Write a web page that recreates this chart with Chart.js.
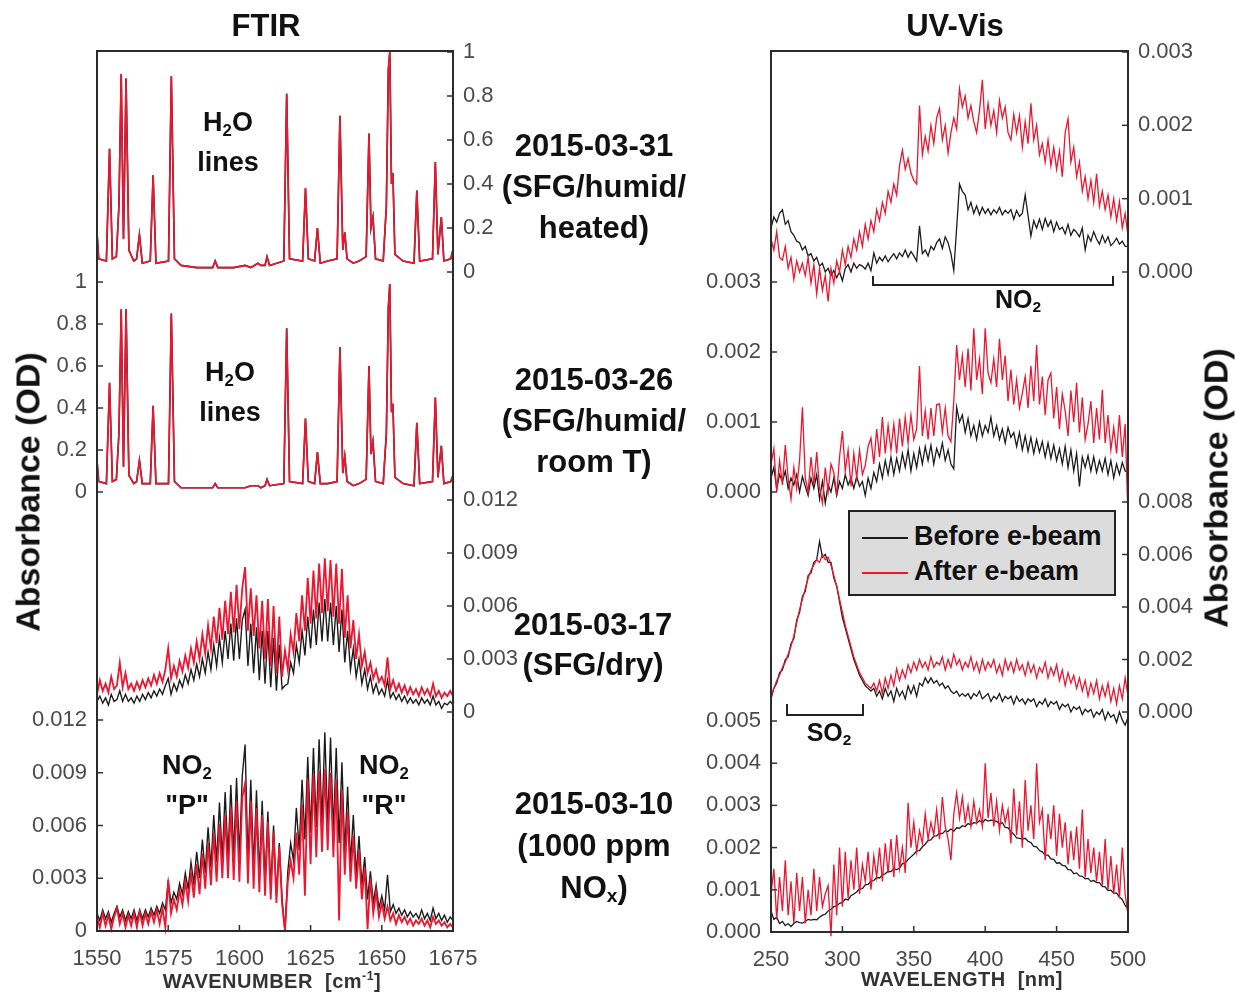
<!DOCTYPE html>
<html lang="en">
<head>
<meta charset="UTF-8">
<title>FTIR and UV-Vis absorbance spectra</title>
<script src="https://cdn.jsdelivr.net/npm/chart.js"></script>
<style>
    body {
        margin: 0;
        background: #ffffff;
        font-family: "Liberation Sans", Arial, sans-serif;
    }
    #page {
        position: relative;
        width: 1236px;
        height: 994px;
        overflow: hidden;
        background: #ffffff;
    }
    canvas {
        position: absolute;
        top: 0;
    }
    .ftir { left: 0; }
    .uv { left: 640px; }

    .txt {
        position: absolute;
        transform: translate(-50%, -50%);
        font-weight: bold;
        color: #111;
        text-align: center;
        white-space: nowrap;
    }
    .title { font-size: 31px; }
    .date { font-size: 31px; }
    .note { font-size: 27px; line-height: 33px; }
    .xtitle { font-size: 20px; color: #333; letter-spacing: 0.5px; }
    .ytitle {
        position: absolute;
        transform: translate(-50%, -50%) rotate(-90deg);
        font-size: 34px;
        font-weight: bold;
        color: #111;
        white-space: nowrap;
    }
    sub, sup { font-size: 62%; }
    sub { vertical-align: -0.25em; }

    .bracket {
        position: absolute;
        border: 2px solid #222;
        border-top: none;
        box-sizing: border-box;
    }

    #legend {
        position: absolute;
        left: 848px;
        top: 510px;
        width: 268px;
        height: 86px;
        box-sizing: border-box;
        border: 2px solid #222;
        background: #dcdcdc;
        font-size: 27px;
        font-weight: bold;
        color: #111;
    }
    #legend .row {
        position: absolute;
        left: 12px;
        height: 34px;
        line-height: 34px;
        white-space: nowrap;
    }
    #legend .sw {
        display: inline-block;
        width: 46px;
        height: 2px;
        vertical-align: middle;
        margin-right: 6px;
    }
</style>
</head>
<body>
<div id="page">
    <canvas id="ftir1" class="ftir" width="560" height="994"></canvas>
    <canvas id="ftir2" class="ftir" width="560" height="994"></canvas>
    <canvas id="ftir3" class="ftir" width="560" height="994"></canvas>
    <canvas id="ftir4" class="ftir" width="560" height="994"></canvas>
    <canvas id="uv1" class="uv" width="596" height="994"></canvas>
    <canvas id="uv2" class="uv" width="596" height="994"></canvas>
    <canvas id="uv3" class="uv" width="596" height="994"></canvas>
    <canvas id="uv4" class="uv" width="596" height="994"></canvas>

    <div class="txt title" style="left:266px; top:26px;">FTIR</div>
    <div class="txt title" style="left:955px; top:26px;">UV-Vis</div>

    <div class="ytitle" style="left:28px; top:492px;">Absorbance (OD)</div>
    <div class="ytitle" style="left:1216px; top:488px;">Absorbance (OD)</div>

    <div class="txt date" style="left:594px; top:186px; line-height:41px;">2015-03-31<br>(SFG/humid/<br>heated)</div>
    <div class="txt date" style="left:594px; top:420px; line-height:41px;">2015-03-26<br>(SFG/humid/<br>room T)</div>
    <div class="txt date" style="left:593px; top:645px; line-height:40px;">2015-03-17<br>(SFG/dry)</div>
    <div class="txt date" style="left:594px; top:850px; line-height:42px;">2015-03-10<br>(1000 ppm<br>NO<sub>x</sub>)</div>

    <div class="txt note" style="left:228px; top:143px;">H<sub>2</sub>O<br>lines</div>
    <div class="txt note" style="left:230px; top:393px;">H<sub>2</sub>O<br>lines</div>
    <div class="txt note" style="left:187px; top:786px;">NO<sub>2</sub><br>"P"</div>
    <div class="txt note" style="left:384px; top:786px;">NO<sub>2</sub><br>"R"</div>

    <div class="bracket" style="left:872px; top:276px; width:242px; height:10px;"></div>
    <div class="txt note" style="left:1018px; top:303px; font-size:25px;">NO<sub>2</sub></div>
    <div class="bracket" style="left:786px; top:704px; width:78px; height:12px;"></div>
    <div class="txt note" style="left:829px; top:736px; font-size:25px;">SO<sub>2</sub></div>

    <div id="legend">
        <div class="row" style="top:7px;"><span class="sw" style="background:#1c1c1c;"></span>Before e-beam</div>
        <div class="row" style="top:42px;"><span class="sw" style="background:#f0142d;"></span>After e-beam</div>
    </div>

    <div class="txt xtitle" style="left:272px; top:981px;">WAVENUMBER&nbsp; [cm<sup>-1</sup>]</div>
    <div class="txt xtitle" style="left:962px; top:979px;">WAVELENGTH&nbsp; [nm]</div>
</div>

<script>
    // ---- FTIR data (wavenumber in cm-1) ----
    // H2O line spectra, absorbance in OD
    const h2oWn = [
        1550.0, 1550.6, 1553.3, 1554.4, 1555.4, 1556.8, 1557.7, 1558.5, 1559.3, 1560.2,
        1561.2, 1562.9, 1563.9, 1564.9, 1565.9, 1568.7, 1569.7, 1570.7, 1575.1, 1576.1,
        1577.2, 1579.5, 1585.0, 1590.6, 1591.5, 1592.4, 1598.0, 1602.0, 1604.0, 1606.5,
        1607.5, 1609.0, 1609.7, 1610.6, 1615.6, 1616.6, 1617.6, 1622.2, 1623.2, 1624.2,
        1626.4, 1627.4, 1628.4, 1631.0, 1634.3, 1635.3, 1636.3, 1637.0, 1637.8, 1640.0,
        1642.0, 1644.5, 1645.5, 1646.2, 1646.9, 1647.8, 1650.5, 1651.6, 1652.3, 1652.8,
        1653.4, 1653.9, 1654.6, 1657.5, 1661.3, 1662.3, 1663.3, 1667.8, 1668.8, 1669.7,
        1670.9, 1671.8, 1674.2, 1675.0
    ];
    const h2oMar31 = [
        0.18, 0.06, 0.05, 0.56, 0.06, 0.07, 0.30, 0.90, 0.15, 0.88,
        0.10, 0.05, 0.06, 0.17, 0.04, 0.05, 0.44, 0.04, 0.05, 0.89,
        0.06, 0.03, 0.02, 0.02, 0.05, 0.02, 0.02, 0.03, 0.02, 0.04,
        0.03, 0.03, 0.07, 0.03, 0.05, 0.81, 0.06, 0.05, 0.38, 0.06,
        0.05, 0.20, 0.04, 0.05, 0.06, 0.71, 0.10, 0.18, 0.06, 0.04,
        0.05, 0.07, 0.63, 0.20, 0.25, 0.06, 0.05, 0.30, 0.92, 1.00,
        0.40, 0.45, 0.08, 0.05, 0.04, 0.37, 0.05, 0.06, 0.50, 0.08,
        0.25, 0.05, 0.06, 0.10
    ];
    const h2oMar26 = [
        0.15, 0.05, 0.04, 0.52, 0.05, 0.06, 0.28, 0.87, 0.12, 0.87,
        0.08, 0.04, 0.05, 0.15, 0.04, 0.04, 0.41, 0.04, 0.04, 0.85,
        0.05, 0.02, 0.02, 0.02, 0.04, 0.02, 0.02, 0.02, 0.03, 0.03,
        0.02, 0.03, 0.06, 0.03, 0.04, 0.78, 0.05, 0.04, 0.35, 0.05,
        0.04, 0.19, 0.04, 0.04, 0.05, 0.69, 0.09, 0.17, 0.05, 0.03,
        0.04, 0.06, 0.60, 0.18, 0.24, 0.05, 0.04, 0.28, 0.88, 0.99,
        0.38, 0.42, 0.07, 0.04, 0.03, 0.33, 0.04, 0.05, 0.45, 0.07,
        0.22, 0.04, 0.05, 0.08
    ];

    // NO2 band spectra, absorbance in mOD (0.001 OD)
    const no2Wn = [
        1550, 1551, 1552, 1553, 1554, 1555, 1556, 1557, 1558, 1559,
        1560, 1561, 1562, 1563, 1564, 1565, 1566, 1567, 1568, 1569,
        1570, 1571, 1572, 1573, 1574, 1575, 1576, 1577, 1578, 1579,
        1580, 1581, 1582, 1583, 1584, 1585, 1586, 1587, 1588, 1589,
        1590, 1591, 1592, 1593, 1594, 1595, 1596, 1597, 1598, 1599,
        1600, 1601, 1602, 1603, 1604, 1605, 1606, 1607, 1608, 1609,
        1610, 1611, 1612, 1613, 1614, 1615, 1616, 1617, 1618, 1619,
        1620, 1621, 1622, 1623, 1624, 1625, 1626, 1627, 1628, 1629,
        1630, 1631, 1632, 1633, 1634, 1635, 1636, 1637, 1638, 1639,
        1640, 1641, 1642, 1643, 1644, 1645, 1646, 1647, 1648, 1649,
        1650, 1651, 1652, 1653, 1654, 1655, 1656, 1657, 1658, 1659,
        1660, 1661, 1662, 1663, 1664, 1665, 1666, 1667, 1668, 1669,
        1670, 1671, 1672, 1673, 1674, 1675
    ];
    const ftirMar17Before = [
        0.6, 0.9, 0.5, 0.8, 0.4, 1.0, 0.6, 0.7, 1.2, 0.6,
        1.0, 0.6, 0.8, 0.5, 0.9, 0.6, 1.0, 0.7, 1.1, 0.8,
        1.2, 0.9, 1.3, 1.0, 1.5, 1.9, 1.0, 1.6, 1.2, 1.8,
        1.4, 2.1, 1.6, 2.4, 1.8, 2.7, 2.0, 3.0, 2.2, 3.4,
        2.4, 3.8, 2.6, 4.2, 2.8, 4.6, 3.0, 5.0, 2.9, 5.3,
        3.0, 5.2, 5.8, 2.6, 5.0, 2.2, 4.8, 1.8, 4.6, 1.6,
        4.6, 1.4, 4.2, 1.2, 3.8, 1.3, 1.5, 1.6, 2.8, 2.2,
        3.8, 2.8, 4.6, 3.2, 5.4, 3.6, 5.8, 3.8, 6.2, 4.0,
        6.4, 4.0, 6.2, 3.8, 6.0, 3.4, 5.8, 2.8, 4.6, 2.4,
        3.6, 2.0, 3.0, 1.6, 2.4, 1.3, 2.0, 1.1, 1.6, 1.0,
        1.3, 0.9, 1.8, 0.8, 1.1, 0.7, 1.0, 0.6, 0.9, 0.5,
        0.8, 0.5, 0.7, 0.4, 0.8, 0.5, 0.7, 0.4, 0.9, 0.4,
        0.6, 0.2, 0.5, 0.4, 0.6, 0.4
    ];
    const ftirMar17After = [
        1.0, 1.8, 1.2, 1.6, 1.1, 2.0, 1.3, 1.5, 2.8, 1.4,
        2.2, 1.3, 1.6, 1.2, 1.7, 1.3, 1.8, 1.4, 1.9, 1.5,
        2.1, 1.6, 2.2, 1.7, 2.4, 3.6, 1.9, 2.6, 2.0, 2.9,
        2.3, 3.2, 2.5, 3.6, 2.8, 4.0, 3.0, 4.4, 3.3, 4.9,
        3.6, 5.4, 3.9, 5.9, 4.1, 6.3, 4.4, 6.8, 4.5, 7.2,
        4.7, 7.0, 8.2, 4.6, 7.0, 4.3, 6.6, 3.6, 6.3, 3.0,
        6.4, 2.6, 6.0, 2.2, 5.4, 2.0, 3.5, 2.4, 4.4, 3.4,
        5.6, 4.0, 6.6, 4.6, 7.6, 5.0, 8.0, 5.3, 8.4, 5.6,
        8.7, 5.7, 8.6, 5.4, 8.4, 5.0, 8.1, 4.2, 6.6, 3.6,
        5.2, 3.0, 4.4, 2.6, 3.4, 2.2, 2.8, 1.9, 2.4, 1.7,
        2.0, 1.5, 3.1, 1.3, 1.8, 1.2, 1.6, 1.1, 1.5, 1.0,
        1.4, 1.0, 1.3, 0.9, 1.4, 1.0, 1.3, 0.9, 1.6, 0.9,
        1.2, 0.8, 1.1, 0.9, 1.2, 0.9
    ];
    const ftirMar10Before = [
        1.0, 0.6, 1.2, 0.7, 1.1, 0.5, 1.0, 1.4, 0.8, 1.2,
        0.6, 1.1, 0.7, 1.2, 0.6, 1.2, 0.7, 1.2, 0.8, 1.3,
        0.9, 1.4, 1.0, 1.6, 1.2, 2.8, 1.6, 2.2, 1.8, 2.7,
        2.1, 3.3, 2.4, 3.9, 2.7, 4.5, 3.0, 5.2, 3.3, 5.9,
        3.6, 6.6, 3.9, 7.3, 4.1, 7.9, 4.2, 8.3, 4.3, 8.7,
        4.2, 8.8, 10.6, 4.0, 8.6, 3.6, 8.0, 3.2, 7.4, 2.8,
        6.8, 2.4, 6.0, 2.0, 5.0, 1.8, 0.0, 3.4, 5.0, 4.0,
        7.0, 4.6, 8.6, 5.2, 9.9, 5.6, 10.4, 5.9, 10.9, 6.1,
        11.3, 6.0, 11.0, 5.6, 10.4, 5.0, 9.6, 4.4, 8.2, 3.8,
        6.6, 3.2, 5.4, 2.6, 4.2, 1.8, 3.4, 1.6, 2.6, 1.3,
        2.0, 1.2, 3.2, 1.1, 1.5, 1.0, 1.3, 0.9, 1.2, 0.8,
        1.1, 0.8, 1.0, 0.7, 1.2, 0.7, 1.0, 0.6, 1.3, 0.7,
        1.0, 0.6, 0.9, 0.5, 0.8, 0.6
    ];
    const ftirMar10After = [
        0.8, 0.2, 1.0, 0.3, 0.9, 0.1, 0.8, 1.3, 0.4, 1.0,
        0.2, 0.9, 0.3, 1.0, 0.2, 1.1, 0.3, 1.0, 0.4, 1.1,
        0.5, 1.2, 0.4, 1.3, 0.2, 2.9, 1.0, 1.8, 1.2, 2.3,
        1.5, 2.8, 1.7, 3.3, 1.9, 3.8, 2.1, 4.4, 2.4, 5.0,
        2.6, 5.6, 2.8, 6.1, 3.0, 6.6, 3.0, 7.0, 2.9, 7.4,
        2.8, 7.6, 8.4, 2.7, 7.4, 2.4, 7.0, 2.2, 6.6, 2.0,
        6.2, 1.8, 5.6, 1.6, 4.8, 1.5, 0.0, 2.8, 4.0, 3.0,
        5.6, 3.2, 7.2, 2.0, 8.6, 3.8, 8.9, 4.2, 9.1, 4.5,
        9.2, 4.6, 9.0, 4.2, 8.6, 0.6, 8.0, 3.2, 6.8, 2.8,
        5.4, 2.4, 4.6, 1.8, 3.6, 0.1, 3.0, 1.0, 2.2, 0.8,
        1.6, 0.7, 1.4, 0.6, 1.0, 0.4, 0.9, 0.5, 0.8, 0.4,
        0.7, 0.3, 0.6, 0.4, 0.7, 0.3, 0.6, 0.2, 0.8, 0.4,
        0.6, 0.3, 0.5, 0.2, 0.4, 0.2
    ];

    // ---- UV-Vis data (wavelength in nm, absorbance in mOD) ----
    const uvNm = [
        250, 252, 254, 256, 258, 260, 262, 264, 266, 268,
        270, 272, 274, 276, 278, 280, 282, 284, 286, 288,
        290, 292, 294, 296, 298, 300, 302, 304, 306, 308,
        310, 312, 314, 316, 318, 320, 322, 324, 326, 328,
        330, 332, 334, 336, 338, 340, 342, 344, 346, 348,
        350, 352, 354, 356, 358, 360, 362, 364, 366, 368,
        370, 372, 374, 376, 378, 380, 382, 384, 386, 388,
        390, 392, 394, 396, 398, 400, 402, 404, 406, 408,
        410, 412, 414, 416, 418, 420, 422, 424, 426, 428,
        430, 432, 434, 436, 438, 440, 442, 444, 446, 448,
        450, 452, 454, 456, 458, 460, 462, 464, 466, 468,
        470, 472, 474, 476, 478, 480, 482, 484, 486, 488,
        490, 492, 494, 496, 498, 500
    ];
    const uvMar31Before = [
        0.60, 0.75, 0.68, 0.80, 0.85, 0.65, 0.70, 0.55, 0.50, 0.42,
        0.40, 0.30, 0.35, 0.22, 0.25, 0.15, 0.20, 0.08, 0.12, 0.00,
        0.05, -0.05, 0.02, -0.08, 0.00, -0.12, 0.05, 0.10, 0.00, 0.12,
        0.05, 0.10, 0.08, 0.04, 0.12, 0.02, 0.26, 0.12, 0.20, 0.15,
        0.22, 0.14, 0.20, 0.25, 0.18, 0.26, 0.21, 0.30, 0.20, 0.28,
        0.22, 0.15, 0.63, 0.25, 0.30, 0.22, 0.35, 0.30, 0.40, 0.45,
        0.32, 0.48, 0.40, 0.25, 0.02, 0.60, 1.20, 1.10, 1.05, 0.85,
        0.95, 0.80, 0.90, 0.78, 0.88, 0.80, 0.86, 0.78, 0.85, 0.80,
        0.88, 0.78, 0.84, 0.80, 0.85, 0.72, 0.84, 0.76, 0.80, 1.05,
        0.77, 0.49, 0.70, 0.60, 0.72, 0.58, 0.73, 0.62, 0.70, 0.55,
        0.68, 0.58, 0.61, 0.52, 0.65, 0.50, 0.58, 0.54, 0.48, 0.60,
        0.30, 0.50, 0.42, 0.55, 0.45, 0.38, 0.50, 0.40, 0.48, 0.36,
        0.40, 0.46, 0.38, 0.42, 0.35, 0.35
    ];
    const uvMar31After = [
        0.45, 0.30, 0.55, 0.20, 0.16, 0.35, 0.05, 0.20, -0.10, 0.15,
        0.00, 0.12, -0.05, 0.20, -0.15, 0.10, -0.30, 0.05, -0.25, -0.05,
        -0.40, 0.05, -0.15, 0.15, 0.00, 0.30, 0.10, 0.35, 0.20, 0.45,
        0.30, 0.55, 0.35, 0.65, 0.45, 0.70, 0.55, 0.85, 0.70, 0.95,
        0.80, 1.10, 0.95, 1.20, 1.05, 1.45, 1.66, 1.40, 1.55, 1.35,
        1.25, 1.20, 2.27, 1.60, 1.85, 1.65, 2.00, 1.75, 2.10, 2.23,
        1.80, 2.00, 1.62, 1.90, 2.10, 1.95, 2.50, 2.25, 2.40, 2.10,
        2.27, 2.05, 1.90, 2.20, 2.62, 1.95, 2.30, 2.00, 2.20, 1.90,
        2.34, 2.10, 2.25, 1.90, 1.80, 2.15, 1.90, 2.13, 1.70, 2.05,
        1.75, 2.30, 1.80, 2.00, 1.60, 1.75, 1.50, 1.80, 1.45, 1.70,
        1.40, 1.65, 1.30, 1.90, 2.09, 1.50, 1.70, 1.30, 1.50, 1.10,
        1.30, 1.00, 1.25, 0.95, 1.34, 0.90, 1.10, 0.85, 1.05, 0.75,
        1.00, 0.70, 0.96, 0.60, 0.80, 0.49
    ];
    const uvMar26Before = [
        0.20, 0.35, 0.05, 0.25, 0.15, 0.30, 0.05, 0.20, 0.10, 0.25,
        0.00, 0.22, 0.08, -0.05, 0.20, 0.05, 0.25, -0.10, 0.15, -0.16,
        0.10, 0.00, 0.20, -0.05, 0.15, 0.05, 0.25, 0.10, 0.20, 0.05,
        0.22, 0.08, 0.15, -0.05, 0.20, 0.05, 0.28, 0.15, 0.40, 0.20,
        0.45, 0.25, 0.50, 0.25, 0.48, 0.30, 0.55, 0.35, 0.60, 0.30,
        0.55, 0.35, 0.62, 0.40, 0.65, 0.45, 0.67, 0.40, 0.62, 0.50,
        0.70, 0.45, 0.60, 0.40, 0.33, 1.21, 1.00, 1.10, 0.85, 1.05,
        0.80, 0.95, 0.75, 1.00, 0.80, 0.95, 0.85, 1.07, 0.80, 0.95,
        0.75, 0.90, 0.70, 0.92, 0.78, 0.85, 0.65, 0.85, 0.60, 0.80,
        0.58, 0.78, 0.55, 0.75, 0.57, 0.72, 0.50, 0.70, 0.48, 0.67,
        0.45, 0.62, 0.40, 0.65, 0.35, 0.60, 0.30, 0.55, 0.08, 0.50,
        0.35, 0.52, 0.30, 0.50, 0.28, 0.45, 0.30, 0.48, 0.25, 0.45,
        0.20, 0.40, 0.25, 0.42, 0.30, 0.28
    ];
    const uvMar26After = [
        0.40, 0.62, 0.00, 0.45, 0.10, 0.67, 0.20, -0.10, 0.35, 0.05,
        0.45, 1.21, 0.20, 0.00, 0.50, 0.10, 0.57, 0.05, -0.16, 0.35,
        0.00, 0.40, 0.28, -0.05, 0.50, 0.87, 0.30, 0.60, 0.08, 0.55,
        0.20, 0.60, 0.25, 0.38, 0.65, 0.77, 0.40, 0.90, 0.50, 1.07,
        0.55, 0.95, 0.60, 0.97, 0.55, 1.05, 0.65, 1.07, 0.70, 1.10,
        0.75, 0.90, 1.80, 0.80, 1.16, 0.75, 1.20, 0.80, 1.25, 1.26,
        0.85, 1.20, 0.80, 0.72, 1.30, 2.10, 1.60, 1.95, 1.50, 2.05,
        1.45, 2.34, 1.60, 1.90, 1.40, 2.34, 1.70, 1.56, 1.90, 1.50,
        2.19, 1.60, 1.95, 1.30, 1.75, 1.25, 1.60, 1.20, 1.41, 1.65,
        1.20, 1.80, 1.30, 2.10, 1.25, 1.65, 1.10, 1.60, 1.70, 1.05,
        1.50, 0.90, 1.40, 1.16, 0.80, 1.45, 1.00, 1.56, 0.85, 1.35,
        0.75, 0.97, 1.30, 0.70, 1.20, 0.75, 1.46, 0.70, 1.10, 0.60,
        0.92, 0.55, 1.10, 0.50, 0.97, -0.36
    ];
    const uvMar17Before = [
        0.5, 0.9, 1.1, 1.5, 1.6, 2.0, 2.1, 2.6, 2.8, 3.5,
        3.8, 4.4, 4.6, 5.2, 5.3, 5.7, 5.8, 6.5, 5.9, 6.0,
        5.7, 5.7, 5.1, 4.8, 4.2, 3.6, 3.2, 2.8, 2.4, 2.0,
        1.7, 1.4, 1.2, 1.0, 0.9, 0.8, 0.9, 0.6, 0.8, 0.5,
        0.9, 0.6, 0.8, 0.4, 0.9, 0.6, 0.8, 0.5, 1.0, 0.7,
        1.0, 0.6, 1.1, 1.0, 1.3, 1.1, 1.3, 1.1, 1.2, 1.0,
        1.1, 0.9, 1.0, 0.8, 0.7, 0.8, 0.6, 0.7, 0.6, 0.7,
        0.5, 0.7, 0.6, 0.8, 0.5, 0.6, 0.7, 0.4, 0.6, 0.5,
        0.7, 0.4, 0.6, 0.5, 0.6, 0.3, 0.6, 0.4, 0.5, 0.3,
        0.5, 0.4, 0.5, 0.2, 0.4, 0.3, 0.5, 0.2, 0.4, 0.3,
        0.4, 0.1, 0.3, 0.2, 0.3, 0.0, 0.2, 0.1, 0.2, -0.1,
        0.1, 0.0, 0.1, -0.2, 0.0, -0.1, 0.1, -0.3, 0.0, -0.2,
        -0.1, -0.4, 0.0, -0.3, -0.5, -0.2
    ];
    const uvMar17After = [
        0.6, 0.9, 1.2, 1.4, 1.7, 1.9, 2.2, 2.5, 2.9, 3.4,
        3.9, 4.3, 4.7, 5.1, 5.4, 5.6, 5.8, 5.7, 6.0, 5.8,
        5.9, 5.6, 5.2, 4.8, 4.3, 3.8, 3.3, 2.9, 2.5, 2.1,
        1.8, 1.5, 1.3, 1.1, 1.0, 0.9, 1.1, 0.8, 1.2, 0.7,
        1.3, 0.9, 1.4, 1.0, 1.65, 1.2, 1.6, 1.3, 1.8, 1.5,
        1.9, 1.6, 2.0, 1.7, 1.9, 1.6, 2.1, 1.7, 1.9, 1.8,
        2.1, 1.6, 2.0, 1.7, 2.2, 1.8, 2.0, 1.6, 1.9, 1.7,
        2.1, 1.6, 1.9, 1.5, 2.0, 1.6, 1.9, 1.7, 2.0, 1.5,
        1.8, 1.4, 2.0, 1.6, 1.9, 1.5, 2.0, 1.6, 1.8, 1.4,
        1.9, 1.5, 1.8, 1.3, 1.7, 1.5, 1.9, 1.3, 1.7, 1.4,
        1.8, 1.2, 1.6, 1.0, 1.5, 1.1, 1.4, 0.9, 1.3, 0.8,
        1.2, 0.6, 1.1, 0.7, 1.2, 0.5, 1.0, 0.6, 1.1, 0.4,
        0.9, 0.3, 1.0, 0.5, 1.3, 0.6
    ];
    const uvMar10Before = [
        0.50, 0.30, 0.35, 0.20, 0.25, 0.15, 0.20, 0.13, 0.20, 0.25,
        0.22, 0.21, 0.25, 0.30, 0.28, 0.30, 0.29, 0.35, 0.40, 0.42,
        0.50, 0.54, 0.60, 0.62, 0.68, 0.70, 0.78, 0.76, 0.86, 0.90,
        0.95, 1.02, 1.03, 1.12, 1.13, 1.20, 1.22, 1.29, 1.28, 1.35,
        1.38, 1.44, 1.43, 1.50, 1.48, 1.51, 1.62, 1.63, 1.72, 1.78,
        1.84, 1.92, 1.93, 2.02, 2.08, 2.17, 2.18, 2.27, 2.28, 2.34,
        2.33, 2.40, 2.38, 2.44, 2.39, 2.47, 2.46, 2.52, 2.50, 2.57,
        2.54, 2.59, 2.58, 2.64, 2.58, 2.67, 2.63, 2.65, 2.64, 2.62,
        2.56, 2.59, 2.48, 2.47, 2.38, 2.32, 2.23, 2.22, 2.20, 2.22,
        2.15, 2.12, 2.03, 2.02, 1.93, 1.90, 1.82, 1.82, 1.73, 1.72,
        1.63, 1.64, 1.58, 1.57, 1.48, 1.47, 1.38, 1.40, 1.33, 1.32,
        1.26, 1.27, 1.20, 1.22, 1.17, 1.17, 1.08, 1.07, 0.98, 0.99,
        0.92, 0.92, 0.83, 0.77, 0.63, 0.54
    ];
    const uvMar10After = [
        0.9, 1.5, 0.3, 1.3, 0.5, 1.7, 0.4, 1.2, 0.2, 1.4,
        0.5, 1.3, 0.2, 1.0, 0.4, 1.5, 0.5, 1.3, 0.6, 0.9,
        1.1, -0.1, 1.6, 0.4, 2.0, 0.6, 1.9, 0.8, 1.7, 1.0,
        2.0, 0.9, 1.6, 1.2, 1.9, 1.0, 1.8, 1.3, 2.0, 1.2,
        2.1, 1.4, 2.2, 1.3, 2.3, 1.5, 2.0, 1.4, 3.06, 2.0,
        2.6, 1.9, 2.4, 2.1, 2.8, 2.2, 2.6, 2.3, 2.9, 2.2,
        3.2, 2.5, 2.2, 1.7, 2.8, 3.3, 2.7, 3.2, 2.6, 3.0,
        2.5, 3.1, 2.6, 2.9, 2.5, 4.0, 2.7, 3.3, 2.5, 3.1,
        2.4, 3.0, 2.6, 2.9, 2.1, 3.4, 2.3, 3.1, 2.0, 3.6,
        2.4, 3.0, 2.2, 4.0, 2.6, 2.9, 1.7, 2.8, 2.2, 3.0,
        1.8, 2.8, 2.0, 2.6, 1.6, 2.4, 1.7, 2.5, 1.5, 2.9,
        1.3, 2.2, 1.4, 2.0, 1.2, 1.9, 1.1, 2.2, 1.0, 1.8,
        0.9, 1.6, 0.8, 2.0, 0.9, 0.4
    ];

    // axis tick lists
    const wnTicks = [1550, 1575, 1600, 1625, 1650, 1675];
    const nmTicks = [250, 300, 350, 400, 450, 500];
    const h2oTicks = [0, 0.2, 0.4, 0.6, 0.8, 1];
    const no2Ticks = [0, 3, 6, 9, 12];
    const uvTicks3 = [0, 1, 2, 3];
    const uvTicks8 = [0, 2, 4, 6, 8];
    const uvTicks5 = [0, 1, 2, 3, 4, 5];

    const BLACK = '#1c1c1c';
    const RED = '#f0142d';
    const AXIS_W = 80;
    const XAXIS_H = 40;
    const FRAME_TOP = 51;

    Chart.defaults.font.family = '"Liberation Sans", Arial, sans-serif';

    // MATLAB style ticks pointing into the plot
    const innerTicks = {
        id: 'innerTicks',
        afterDraw(chart) {
            const ctx = chart.ctx;
            const area = chart.chartArea;
            ctx.save();
            ctx.strokeStyle = '#333';
            ctx.lineWidth = 1.5;
            Object.values(chart.scales).forEach(s => {
                if (!s.options.display) return;
                s.ticks.forEach(t => {
                    const p = s.getPixelForValue(t.value);
                    ctx.beginPath();
                    if (s.isHorizontal()) {
                        ctx.moveTo(p, area.bottom);
                        ctx.lineTo(p, area.bottom - 6);
                    } else if (s.position === 'left') {
                        ctx.moveTo(area.left, p);
                        ctx.lineTo(area.left + 6, p);
                    } else {
                        ctx.moveTo(area.right, p);
                        ctx.lineTo(area.right - 6, p);
                    }
                    ctx.stroke();
                });
            });
            ctx.restore();
        }
    };

    // one box around the four stacked plots of a panel
    const panelFrame = {
        id: 'panelFrame',
        afterDraw(chart) {
            const ctx = chart.ctx;
            const a = chart.chartArea;
            ctx.save();
            ctx.strokeStyle = '#2b2b2b';
            ctx.lineWidth = 2;
            ctx.strokeRect(a.left, FRAME_TOP, a.right - a.left, a.bottom - FRAME_TOP);
            ctx.restore();
        }
    };

    function mOD(v) {
        return (v / 1000).toFixed(3);
    }

    function ftirNo2Label(v) {
        return v === 0 ? '0' : (v / 1000).toFixed(3);
    }

    function spectrumChart(canvasId, o) {
        const cv = document.getElementById(canvasId);
        const W = cv.width, H = cv.height;
        const pad = {
            top: o.area.top,
            bottom: H - o.area.bottom - (o.showX ? XAXIS_H : 0),
            left: o.side === 'left' ? o.area.left - AXIS_W : o.area.left,
            right: o.side === 'right' ? W - o.area.right - AXIS_W : W - o.area.right
        };

        const xScale = {
            type: 'linear',
            min: o.xTicks[0],
            max: o.xTicks[o.xTicks.length - 1],
            display: !!o.showX,
            afterBuildTicks: s => { s.ticks = o.xTicks.map(v => ({ value: v })); },
            grid: { display: false },
            border: { display: false },
            ticks: {
                color: '#4a4a4a',
                font: { size: 22 },
                padding: 7,
                maxRotation: 0,
                autoSkip: false,
                callback: v => String(v)
            }
        };
        if (o.showX) {
            xScale.afterFit = s => { s.height = XAXIS_H; };
        }

        return new Chart(cv, {
            type: 'line',
            data: {
                datasets: o.series.map(s => ({
                    data: s.xs.map((x, i) => ({ x: x, y: s.values[i] })),
                    borderColor: s.color,
                    borderWidth: s.width,
                    pointRadius: 0,
                    tension: 0,
                    clip: false,
                    order: s.order
                }))
            },
            options: {
                responsive: false,
                animation: false,
                events: [],
                layout: { padding: pad },
                plugins: {
                    legend: { display: false },
                    tooltip: { enabled: false }
                },
                scales: {
                    x: xScale,
                    y: {
                        type: 'linear',
                        position: o.side,
                        min: o.yTicks[0],
                        max: o.yTicks[o.yTicks.length - 1],
                        afterFit: s => { s.width = AXIS_W; },
                        afterBuildTicks: s => { s.ticks = o.yTicks.map(v => ({ value: v })); },
                        grid: { display: false },
                        border: { display: false },
                        ticks: {
                            color: '#4a4a4a',
                            font: { size: 22 },
                            padding: 2,
                            callback: v => o.fmt(v)
                        }
                    }
                }
            },
            plugins: o.frame ? [innerTicks, panelFrame] : [innerTicks]
        });
    }

    // ---- FTIR panel ----
    spectrumChart('ftir1', {
        area: { left: 97, right: 453, top: 52, bottom: 272 },
        side: 'right', xTicks: wnTicks, yTicks: h2oTicks, fmt: v => String(v),
        series: [
            { xs: h2oWn, values: h2oMar31, color: BLACK, width: 1.6, order: 2 },
            { xs: h2oWn, values: h2oMar31, color: RED, width: 1.6, order: 1 }
        ]
    });
    spectrumChart('ftir2', {
        area: { left: 97, right: 453, top: 282, bottom: 492 },
        side: 'left', xTicks: wnTicks, yTicks: h2oTicks, fmt: v => String(v),
        series: [
            { xs: h2oWn, values: h2oMar26, color: BLACK, width: 1.6, order: 2 },
            { xs: h2oWn, values: h2oMar26, color: RED, width: 1.6, order: 1 }
        ]
    });
    spectrumChart('ftir3', {
        area: { left: 97, right: 453, top: 500, bottom: 712 },
        side: 'right', xTicks: wnTicks, yTicks: no2Ticks, fmt: ftirNo2Label,
        series: [
            { xs: no2Wn, values: ftirMar17Before, color: BLACK, width: 1.4, order: 2 },
            { xs: no2Wn, values: ftirMar17After, color: RED, width: 1.8, order: 1 }
        ]
    });
    spectrumChart('ftir4', {
        area: { left: 97, right: 453, top: 720, bottom: 931 },
        side: 'left', xTicks: wnTicks, yTicks: no2Ticks, fmt: ftirNo2Label,
        showX: true, frame: true,
        series: [
            { xs: no2Wn, values: ftirMar10Before, color: BLACK, width: 1.4, order: 2 },
            { xs: no2Wn, values: ftirMar10After, color: RED, width: 1.8, order: 1 }
        ]
    });

    // ---- UV-Vis panel (canvas starts at x = 640) ----
    spectrumChart('uv1', {
        area: { left: 131, right: 488, top: 52, bottom: 272 },
        side: 'right', xTicks: nmTicks, yTicks: uvTicks3, fmt: mOD,
        series: [
            { xs: uvNm, values: uvMar31Before, color: BLACK, width: 1.3, order: 2 },
            { xs: uvNm, values: uvMar31After, color: RED, width: 1.3, order: 1 }
        ]
    });
    spectrumChart('uv2', {
        area: { left: 131, right: 488, top: 282, bottom: 492 },
        side: 'left', xTicks: nmTicks, yTicks: uvTicks3, fmt: mOD,
        series: [
            { xs: uvNm, values: uvMar26Before, color: BLACK, width: 1.3, order: 2 },
            { xs: uvNm, values: uvMar26After, color: RED, width: 1.3, order: 1 }
        ]
    });
    spectrumChart('uv3', {
        area: { left: 131, right: 488, top: 502, bottom: 712 },
        side: 'right', xTicks: nmTicks, yTicks: uvTicks8, fmt: mOD,
        series: [
            { xs: uvNm, values: uvMar17Before, color: BLACK, width: 1.3, order: 2 },
            { xs: uvNm, values: uvMar17After, color: RED, width: 1.3, order: 1 }
        ]
    });
    spectrumChart('uv4', {
        area: { left: 131, right: 488, top: 721, bottom: 932 },
        side: 'left', xTicks: nmTicks, yTicks: uvTicks5, fmt: mOD,
        showX: true, frame: true,
        series: [
            { xs: uvNm, values: uvMar10Before, color: BLACK, width: 1.3, order: 2 },
            { xs: uvNm, values: uvMar10After, color: RED, width: 1.3, order: 1 }
        ]
    });
</script>
</body>
</html>
